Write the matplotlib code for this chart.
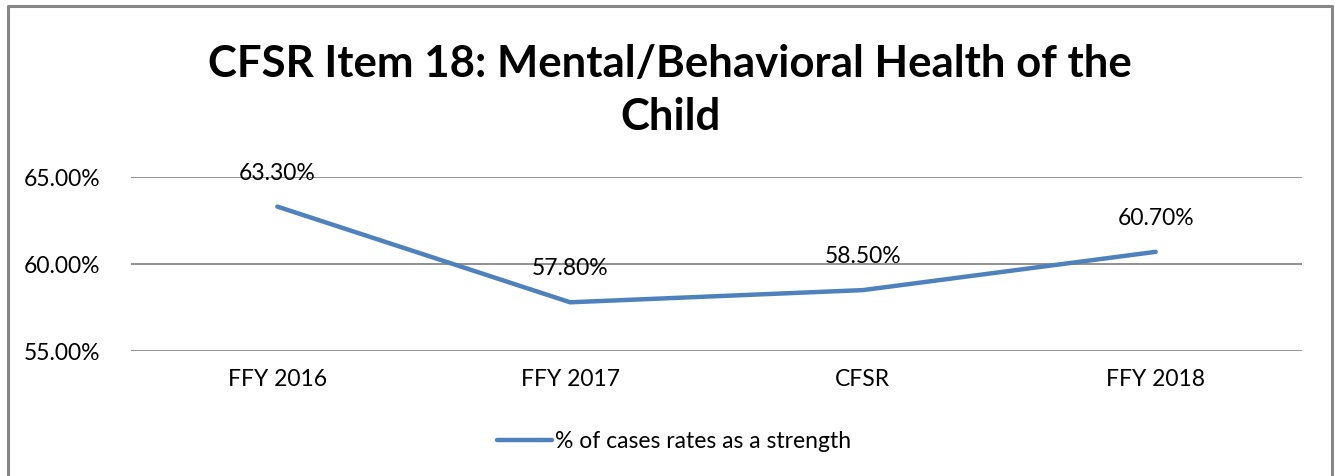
import matplotlib
matplotlib.use('Agg')
import matplotlib.pyplot as plt
from matplotlib.ticker import FuncFormatter

plt.rcParams['font.family'] = ['Lato', 'DejaVu Sans']

# data
categories = ['FFY 2016', 'FFY 2017', 'CFSR', 'FFY 2018']
strength_pct = [63.30, 57.80, 58.50, 60.70]
series_name = '% of cases rates as a strength'
title = 'CFSR Item 18: Mental/Behavioral Health of the\nChild'

fig = plt.figure(figsize=(13.35, 4.76), dpi=100)
ax = fig.add_axes([0.0981, 0.2626, 0.8772, 0.3655])

x = list(range(len(categories)))
ax.plot(x, strength_pct, color='#4F81BD', linewidth=3.2,
        solid_capstyle='round', label=series_name)

for xi, v in zip(x, strength_pct):
    ax.annotate(f'{v:.2f}%', (xi, v), xytext=(0, 24), textcoords='offset points',
                ha='center', va='center', fontsize=16.5)

ax.set_xlim(-0.5, len(categories) - 0.5)
ax.set_ylim(55, 65)
ax.set_yticks([55, 60, 65])
ax.yaxis.set_major_formatter(FuncFormatter(lambda v, p: f'{v:.2f}%'))
ax.set_xticks(x)
ax.set_xticklabels(categories)
ax.tick_params(axis='both', length=0, labelsize=16.5)
ax.tick_params(axis='y', pad=22)
ax.tick_params(axis='x', pad=13)
ax.grid(axis='y', color='#888888', linewidth=1.3)
ax.set_axisbelow(True)
for s in ax.spines.values():
    s.set_visible(False)

fig.text(0.502, 0.81, title, ha='center', va='center', fontsize=31.5,
         fontweight='bold', linespacing=1.38)

# legend sits centred on the whole chart, not on the plot area
fig.legend(loc='center', bbox_to_anchor=(0.505, 0.073), frameon=False,
           fontsize=16.5, handlelength=2.4, handletextpad=0.15)

# outer chart border (open at the bottom, as in the original)
fig.add_artist(plt.Line2D([0.006, 0.006, 0.9975, 0.9975], [0.0, 0.9875, 0.9875, 0.0],
                          transform=fig.transFigure, color='#878787', linewidth=2.2))

fig.savefig('out.png', dpi=100)
